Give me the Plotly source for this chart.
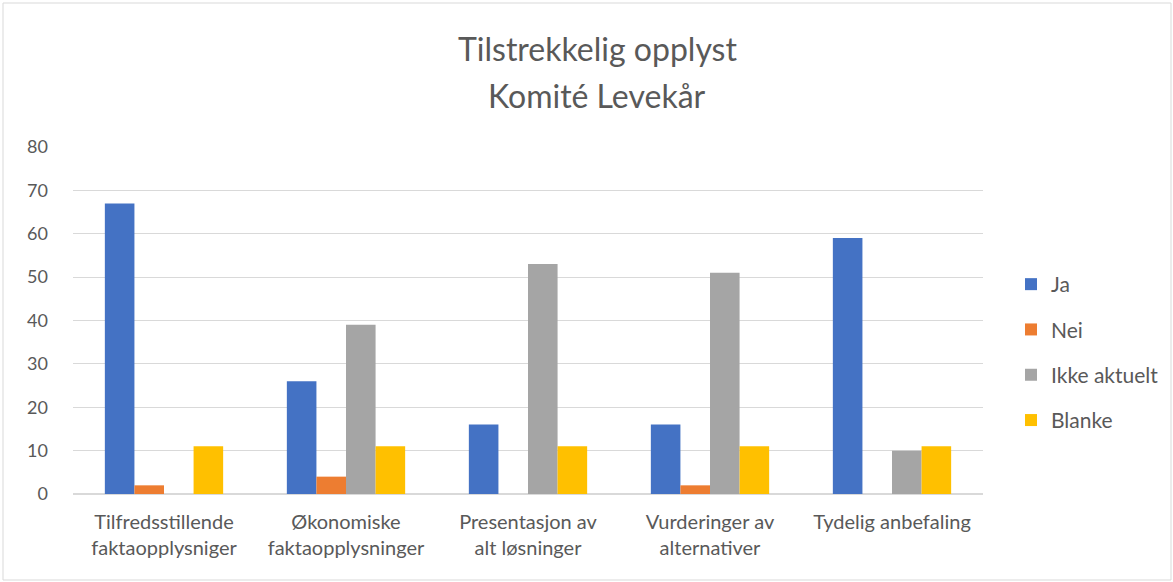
import plotly.graph_objects as go

categories = [
    "Tilfredsstillende<br>faktaopplysniger",
    "Økonomiske<br>faktaopplysninger",
    "Presentasjon av<br>alt løsninger",
    "Vurderinger av<br>alternativer",
    "Tydelig anbefaling",
]
ja = [67, 26, 16, 16, 59]
nei = [2, 4, 0, 2, 0]
ikke_aktuelt = [0, 39, 53, 51, 10]
blanke = [11, 11, 11, 11, 11]

series = [
    ("Ja", ja, "#4472C4"),
    ("Nei", nei, "#ED7D31"),
    ("Ikke aktuelt", ikke_aktuelt, "#A5A5A5"),
    ("Blanke", blanke, "#FFC000"),
]

W, H = 1173, 582
L, R, T, B = 73, 190, 147, 88
pw, ph = W - L - R, H - T - B

fig = go.Figure()
for name, vals, color in series:
    fig.add_trace(go.Bar(
        x=categories, y=vals, name=name, marker_color=color,
        marker_line_width=0, legendgroup=name,
    ))

# pixel -> paper helpers (page has no body margin, see post_script)
def px_x(x):
    return (x - L) / pw

def px_y(y):
    return (H - B - y) / ph

# outer chart frame
fig.add_shape(
    type="rect", xref="paper", yref="paper",
    x0=px_x(3), x1=px_x(1171), y0=px_y(580), y1=px_y(3),
    line=dict(color="#d9d9d9", width=1), fillcolor="rgba(0,0,0,0)", layer="below",
)

# two title lines, placed separately to match the wide line spacing
for txt, ypx in [("Tilstrekkelig opplyst", 48), ("Komité Levekår", 95)]:
    fig.add_annotation(
        text=txt, xref="paper", yref="paper", x=px_x(597), y=px_y(ypx),
        xanchor="center", yanchor="middle", showarrow=False,
        font=dict(size=32, color="#595959"),
    )

fig.update_layout(
    width=W, height=H,
    margin=dict(l=L, r=R, t=T, b=B, autoexpand=False),
    paper_bgcolor="white", plot_bgcolor="white",
    font=dict(family="Lato", color="#595959", size=18),
    barmode="group", bargap=0.35, bargroupgap=0,
    xaxis=dict(showgrid=False, showline=False, ticks="", tickfont=dict(size=20),
               ticklabelstandoff=14),
    yaxis=dict(
        range=[0, 80], dtick=10, showgrid=True, gridcolor="#d9d9d9", gridwidth=1,
        zeroline=True, zerolinecolor="#d9d9d9", zerolinewidth=2,
        tickfont=dict(size=18), ticks="", ticklabelstandoff=24,
    ),
    legend=dict(
        x=px_x(1011), xanchor="left", y=px_y(264), yanchor="top",
        font=dict(size=21), tracegroupgap=15, itemwidth=30,
    ),
    showlegend=True,
)

fig.write_html("out.html", config={"displayModeBar": False},
               post_script="document.body.style.margin='0';")
